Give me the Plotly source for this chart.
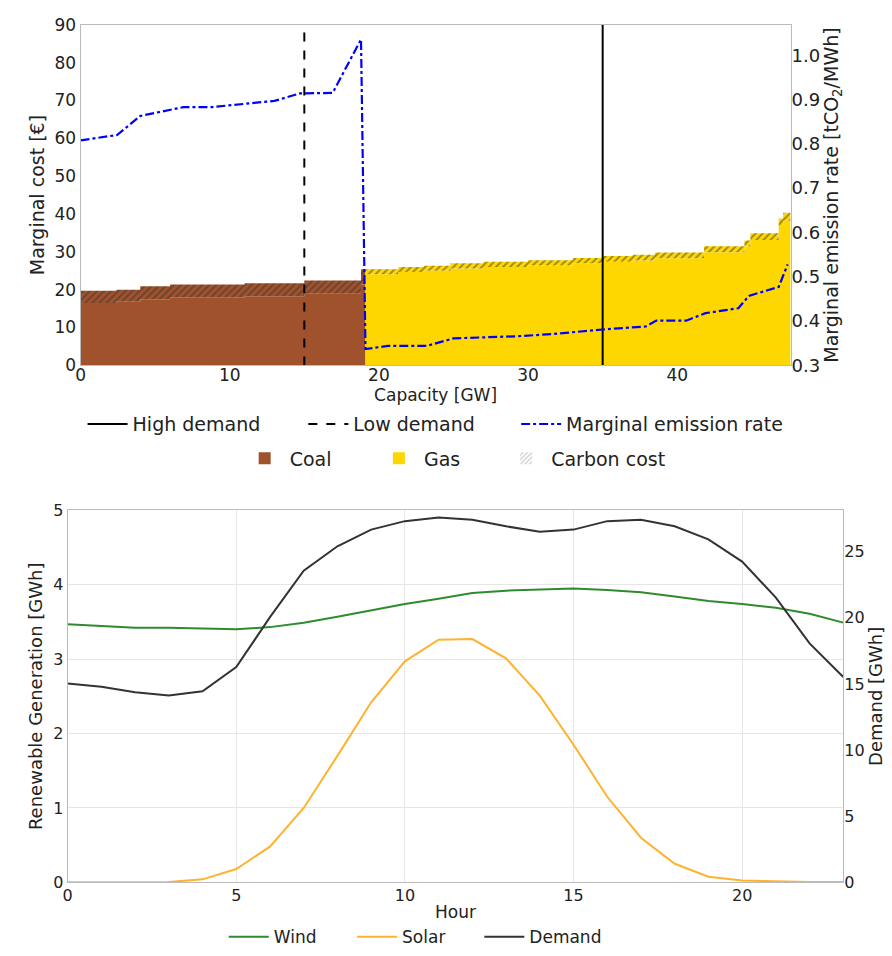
import numpy as np
import plotly.graph_objects as go

# ---------------- Top panel: merit order ----------------
coal_capacity = [2.4, 1.6, 2.0, 5.0, 4.0, 3.8, 0.3]
coal_cost = [19.7, 20.0, 20.9, 21.4, 21.7, 22.4, 25.4]
coal_carbon = [3.2, 3.2, 3.4, 3.4, 3.4, 3.5, 4.0]

gas_capacity = [2.2, 1.7, 1.8, 2.2, 3.0, 3.0, 2.0, 2.0, 1.5, 3.3, 2.7, 0.4, 1.9, 0.3, 0.5]
gas_cost = [25.4, 26.0, 26.3, 27.0, 27.4, 27.8, 28.4, 28.9, 29.2, 29.8, 31.5, 33.0, 34.9, 38.8, 40.3]
gas_carbon = [1.3, 1.3, 1.3, 1.4, 1.4, 1.4, 1.4, 1.5, 1.5, 1.5, 1.6, 1.6, 1.8, 2.0, 2.1]

emis_capacity = [0, 2.45, 4.0, 6.9, 8.8, 13.0, 14.7, 16.9, 18.8, 19.1, 20.6, 23.2, 25.0,
                 29.4, 31.7, 35.0, 37.9, 38.6, 40.6, 41.9, 44.1, 44.8, 46.8, 47.4]
emis_rate = [0.808, 0.820, 0.863, 0.883, 0.883, 0.897, 0.914, 0.915, 1.036, 0.337, 0.344, 0.344,
             0.361, 0.366, 0.371, 0.381, 0.388, 0.401, 0.401, 0.418, 0.429, 0.457, 0.477, 0.528]

low_demand = 15.0
high_demand = 35.0

# ---------------- Bottom panel: daily profiles ----------------
hours = list(range(24))
wind = [3.47, 3.45, 3.42, 3.42, 3.41, 3.40, 3.43, 3.49, 3.57, 3.66, 3.74, 3.81,
        3.89, 3.92, 3.94, 3.95, 3.93, 3.90, 3.84, 3.78, 3.74, 3.69, 3.61, 3.49]
solar = [0.0, 0.0, 0.0, 0.005, 0.04, 0.18, 0.48, 1.0, 1.70, 2.42, 2.97, 3.26,
         3.27, 3.01, 2.51, 1.85, 1.15, 0.60, 0.25, 0.075, 0.025, 0.01, 0.005, 0.005]
demand = [15.04, 14.79, 14.37, 14.13, 14.44, 16.27, 20.05, 23.56, 25.41, 26.67, 27.31, 27.58,
          27.41, 26.92, 26.50, 26.67, 27.31, 27.41, 26.92, 25.93, 24.25, 21.53, 18.07, 15.53]

COAL = "#A0522D"
GAS = "#FFD700"
FONT = "DejaVu Sans"
W, H = 892, 956

fig = go.Figure()


def steps(capacity, values, start):
    edges = start + np.concatenate([[0], np.cumsum(capacity)])
    vals = list(values) + [values[-1]]
    return edges, np.array(vals)


coal_start = 0.0
gas_start = float(np.sum(coal_capacity))
for xs, cap, cost, carb, col in [(coal_start, coal_capacity, coal_cost, coal_carbon, COAL),
                                 (gas_start, gas_capacity, gas_cost, gas_carbon, GAS)]:
    base_vals = list(np.array(cost) - np.array(carb))
    ex, yb = steps(cap, base_vals, xs)
    _, yt = steps(cap, cost, xs)
    fig.add_trace(go.Scatter(x=ex, y=yb, mode="lines", line=dict(width=0, shape="hv"),
                             fill="tozeroy", fillcolor=col, showlegend=False, hoverinfo="skip",
                             xaxis="x", yaxis="y"))
    fig.add_trace(go.Scatter(x=ex, y=yt, mode="lines", line=dict(width=0, shape="hv"),
                             fill="tonexty", fillcolor=col,
                             fillpattern=dict(shape="/", fgcolor="#333333", size=5, solidity=0.35),
                             showlegend=False, hoverinfo="skip", xaxis="x", yaxis="y"))

# legend-only entries for the fills
fig.add_trace(go.Bar(x=[None], y=[None], name="Coal", legend="legend2",
                     marker=dict(color=COAL, line=dict(width=0)), xaxis="x", yaxis="y"))
fig.add_trace(go.Bar(x=[None], y=[None], name="Gas", legend="legend6",
                     marker=dict(color=GAS, line=dict(width=0)), xaxis="x", yaxis="y"))
fig.add_trace(go.Bar(x=[None], y=[None], name="Carbon cost", legend="legend7",
                     marker=dict(color="white", line=dict(width=0),
                                 pattern=dict(shape="/", fgcolor="#999999", size=4, solidity=0.4)),
                     xaxis="x", yaxis="y"))

fig.add_trace(go.Scatter(x=[high_demand, high_demand], y=[0, 90], mode="lines", name="High demand",
                         line=dict(color="black", width=2), legend="legend", xaxis="x", yaxis="y"))
fig.add_trace(go.Scatter(x=[low_demand, low_demand], y=[0, 90], mode="lines", name="Low demand",
                         line=dict(color="black", width=2, dash="dash"), legend="legend4", xaxis="x", yaxis="y"))
fig.add_trace(go.Scatter(x=emis_capacity, y=emis_rate, mode="lines", name="Marginal emission rate",
                         line=dict(color="#0000FF", width=2.2, dash="dashdot"), legend="legend5",
                         xaxis="x", yaxis="y2"))

fig.add_trace(go.Scatter(x=hours, y=wind, mode="lines", name="Wind", line=dict(color="#2E8B2E", width=2),
                         legend="legend3", xaxis="x2", yaxis="y3"))
fig.add_trace(go.Scatter(x=hours, y=solar, mode="lines", name="Solar", line=dict(color="#FFB22E", width=2),
                         legend="legend8", xaxis="x2", yaxis="y3"))
fig.add_trace(go.Scatter(x=hours, y=demand, mode="lines", name="Demand", line=dict(color="#333333", width=2),
                         legend="legend9", xaxis="x2", yaxis="y4"))

frame = dict(showline=True, mirror=True, linecolor="#BBBBBB", linewidth=1, zeroline=False, ticks="")
TOP_TICK = dict(family=FONT, size=17, color="#222")
BOT_TICK = dict(family=FONT, size=16, color="#222")


def leg(px, py, size):
    return dict(orientation="h", x=px / W, xanchor="left", y=1 - py / H, yanchor="middle",
                font=dict(size=size, family=FONT, color="#222"), itemwidth=40,
                bgcolor="rgba(0,0,0,0)", borderwidth=0)


fig.update_layout(
    width=W, height=H, margin=dict(l=0, r=0, t=0, b=0),
    paper_bgcolor="white", plot_bgcolor="white",
    font=dict(family=FONT, color="#222"),
    xaxis=dict(domain=[0.0852, 0.8857], anchor="y", range=[0, 47.6], tickvals=[0, 10, 20, 30, 40],
               showgrid=False, tickfont=TOP_TICK, ticklabelstandoff=-6,
               title=dict(text="Capacity [GW]", font=dict(size=17), standoff=0), **frame),
    yaxis=dict(domain=[0.6203, 0.9843], anchor="x", range=[0, 90], dtick=10, showgrid=False,
               tickfont=TOP_TICK, title=dict(text="Marginal cost [€]", font=dict(size=19), standoff=4), **frame),
    yaxis2=dict(overlaying="y", side="right", anchor="x", range=[0.3, 1.069], dtick=0.1, tickformat=".1f",
                showgrid=False, tickfont=dict(family=FONT, size=18, color="#222"),
                showline=False, zeroline=False, ticks="",
                title=dict(text="Marginal emission rate [tCO<sub>2</sub>/MWh]", font=dict(size=19), standoff=2)),
    xaxis2=dict(domain=[0.0706, 0.9451], anchor="y3", range=[0, 23], tickvals=[0, 5, 10, 15, 20],
                showgrid=True, gridcolor="#E6E6E6", tickfont=BOT_TICK, ticklabelstandoff=-2,
                title=dict(text="Hour", font=dict(size=17), standoff=2), **frame),
    yaxis3=dict(domain=[0.068, 0.4655], anchor="x2", range=[0, 5], dtick=1, showgrid=True, gridcolor="#E6E6E6",
                tickfont=BOT_TICK, title=dict(text="Renewable Generation [GWh]", font=dict(size=18), standoff=5),
                **frame),
    yaxis4=dict(overlaying="y3", side="right", anchor="x2", range=[0, 28.13], tickvals=[0, 5, 10, 15, 20, 25],
                showgrid=False, tickfont=BOT_TICK, showline=False, zeroline=False, ticks="",
                title=dict(text="Demand [GWh]", font=dict(size=18), standoff=3)),
    legend=leg(78, 423, 19),
    legend4=leg(300, 423, 19),
    legend5=leg(514, 423, 19),
    legend2=leg(236, 458, 19),
    legend6=leg(371, 458, 19),
    legend7=leg(499, 458, 19),
    legend3=leg(220, 947, 17),
    legend8=leg(349, 947, 17),
    legend9=leg(477, 947, 17),
)

fig.write_html("out.html")
